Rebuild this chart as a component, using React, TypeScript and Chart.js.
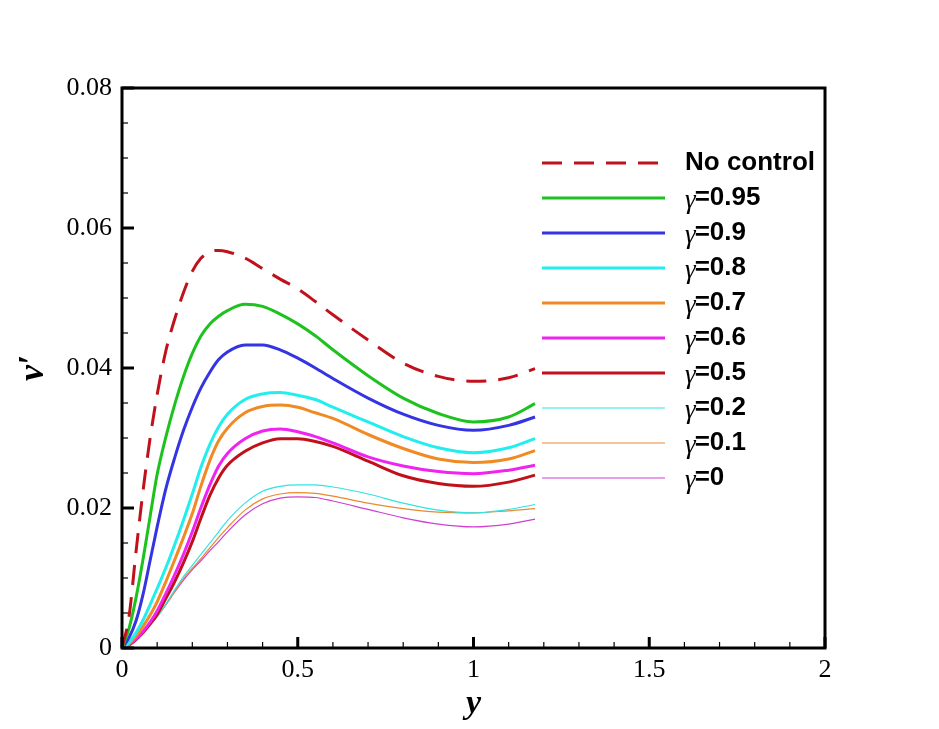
import React, { useEffect, useRef } from "react";
import { Chart, registerables } from "chart.js";

Chart.register(...registerables);

const xs = [0, 0.02, 0.04, 0.06, 0.08, 0.1, 0.125, 0.15, 0.175, 0.2, 0.225, 0.25, 0.275, 0.3, 0.35, 0.4, 0.45, 0.5, 0.55, 0.6, 0.7, 0.8, 0.9, 1.0, 1.1, 1.175];

const noControl = [0, 0.0045, 0.0138, 0.0225, 0.03, 0.0362, 0.0425, 0.047, 0.0508, 0.0538, 0.0557, 0.0566, 0.0568, 0.0566, 0.0557, 0.0542, 0.0527, 0.0513, 0.0495, 0.0476, 0.044, 0.0407, 0.0388, 0.0381, 0.0386, 0.0399];
const g095 = [0, 0.0028, 0.0072, 0.0127, 0.0188, 0.0248, 0.0302, 0.0348, 0.0388, 0.0421, 0.0446, 0.0463, 0.0474, 0.0482, 0.0491, 0.0488, 0.0477, 0.0463, 0.0446, 0.0426, 0.0389, 0.0357, 0.0335, 0.0323, 0.033, 0.0349];
const g09 = [0, 0.0015, 0.0039, 0.0077, 0.0125, 0.0173, 0.0228, 0.0272, 0.0311, 0.0344, 0.0372, 0.0394, 0.0412, 0.0423, 0.0433, 0.0433, 0.0426, 0.0414, 0.04, 0.0385, 0.0357, 0.0334, 0.0318, 0.0311, 0.0318, 0.033];
const g08 = [0, 0.0008, 0.0022, 0.004, 0.0062, 0.0085, 0.0115, 0.0148, 0.0183, 0.022, 0.0259, 0.0291, 0.0316, 0.0334, 0.0355, 0.0363, 0.0365, 0.0361, 0.0355, 0.0344, 0.0323, 0.0302, 0.0286, 0.0279, 0.0286, 0.0299];
const g07 = [0, 0.0006, 0.0017, 0.0031, 0.0047, 0.0066, 0.0095, 0.0126, 0.0158, 0.0192, 0.0232, 0.0268, 0.0296, 0.0314, 0.0336, 0.0345, 0.0347, 0.0344, 0.0336, 0.0328, 0.0305, 0.0285, 0.027, 0.0265, 0.027, 0.0282];
const g06 = [0, 0.0005, 0.0013, 0.0024, 0.0037, 0.0053, 0.0078, 0.0105, 0.0134, 0.0166, 0.0201, 0.0233, 0.026, 0.0278, 0.0299, 0.031, 0.0313, 0.0309, 0.0302, 0.0293, 0.0273, 0.026, 0.0252, 0.0249, 0.0254, 0.0261];
const g05 = [0, 0.0004, 0.0012, 0.0022, 0.0034, 0.0048, 0.0071, 0.0095, 0.0122, 0.0152, 0.0186, 0.0218, 0.0243, 0.0261, 0.0281, 0.0293, 0.0299, 0.0299, 0.0295, 0.0288, 0.0267, 0.0246, 0.0235, 0.0231, 0.0237, 0.0247];
const g02 = [0, 0.0005, 0.0013, 0.0023, 0.0034, 0.0045, 0.0063, 0.0083, 0.0102, 0.0118, 0.0134, 0.015, 0.0166, 0.0182, 0.0207, 0.0224, 0.0231, 0.0233, 0.0233, 0.023, 0.022, 0.0207, 0.0197, 0.0193, 0.0198, 0.0205];
const g01 = [0, 0.0005, 0.0013, 0.0023, 0.0034, 0.0045, 0.0062, 0.0081, 0.0099, 0.0114, 0.0128, 0.0143, 0.0158, 0.0172, 0.0197, 0.0213, 0.022, 0.0222, 0.0221, 0.0217, 0.0207, 0.0199, 0.0194, 0.0193, 0.0196, 0.0199];
const g00 = [0, 0.0005, 0.0013, 0.0023, 0.0034, 0.0045, 0.0062, 0.008, 0.0097, 0.0112, 0.0125, 0.0139, 0.0152, 0.0166, 0.019, 0.0206, 0.0214, 0.0216, 0.0215, 0.021, 0.0198, 0.0186, 0.0177, 0.0173, 0.0177, 0.0184];

const seriesLabels = ["No control", "γ=0.95", "γ=0.9", "γ=0.8", "γ=0.7", "γ=0.6", "γ=0.5", "γ=0.2", "γ=0.1", "γ=0"];
const seriesValues = [noControl, g095, g09, g08, g07, g06, g05, g02, g01, g00];
const seriesColors = ["#c0121c", "#1ec21e", "#3434e2", "#22eeee", "#f08a24", "#f024f0", "#c0101a", "#30e4e4", "#e88a30", "#d040d0"];
const seriesWidths = [3, 3, 3, 3, 3, 3, 3, 1.2, 1.2, 1.2];

const xTicks = [0, 0.5, 1, 1.5, 2];
const yTicks = [0, 0.02, 0.04, 0.06, 0.08];

const framePlugin = {
  id: "frameAndLegend",
  afterDatasetsDraw(chart: any) {
    const ctx = chart.ctx;
    const { left, right, top, bottom } = chart.chartArea;
    const xs_ = chart.scales.x;
    const ys_ = chart.scales.y;
    ctx.save();
    ctx.strokeStyle = "#000";
    for (let i = 0; i <= 20; i++) {
      const v = i * 0.1;
      const px = xs_.getPixelForValue(v);
      const major = i % 5 === 0;
      ctx.lineWidth = major ? 3 : 1.2;
      ctx.beginPath();
      ctx.moveTo(px, bottom);
      ctx.lineTo(px, bottom - (major ? 11 : 6));
      ctx.stroke();
    }
    for (let i = 0; i <= 16; i++) {
      const v = i * 0.005;
      const py = ys_.getPixelForValue(v);
      const major = i % 4 === 0;
      ctx.lineWidth = major ? 3 : 1.2;
      ctx.beginPath();
      ctx.moveTo(left, py);
      ctx.lineTo(left + (major ? 12 : 6), py);
      ctx.stroke();
    }
    ctx.lineWidth = 3;
    ctx.strokeRect(left, top, right - left, bottom - top);

    // legend
    const x0 = 542;
    const x1 = 665;
    const tx = 685;
    const y0 = 163;
    const dy = 35;
    chart.data.datasets.forEach((ds: any, i: number) => {
      const yy = y0 + i * dy;
      ctx.strokeStyle = ds.borderColor;
      ctx.lineWidth = ds.borderWidth;
      ctx.setLineDash(ds.borderDash || []);
      ctx.beginPath();
      ctx.moveTo(x0, yy);
      ctx.lineTo(x1, yy);
      ctx.stroke();
      ctx.setLineDash([]);
      ctx.fillStyle = "#000";
      ctx.textBaseline = "middle";
      ctx.textAlign = "left";
      const label: string = ds.label;
      if (label.startsWith("γ")) {
        ctx.font = "italic 27px 'Liberation Serif'";
        ctx.fillText("γ", tx, yy + 3);
        const w = ctx.measureText("γ").width;
        ctx.font = "bold 26px 'Liberation Sans'";
        ctx.fillText(label.slice(1), tx + w - 1, yy);
      } else {
        ctx.font = "bold 26px 'Liberation Sans'";
        ctx.fillText(label, tx, yy);
      }
    });
    ctx.restore();
  },
};

export default function App() {
  const ref = useRef<HTMLCanvasElement | null>(null);
  useEffect(() => {
    if (!ref.current) return;
    const datasets = seriesValues.map((vals, i) => ({
      label: seriesLabels[i],
      data: vals.map((v, k) => ({ x: xs[k], y: v })),
      borderColor: seriesColors[i],
      backgroundColor: seriesColors[i],
      borderWidth: seriesWidths[i],
      borderDash: i === 0 ? [20, 12] : [],
      pointRadius: 0,
      cubicInterpolationMode: "monotone" as const,
      fill: false,
    }));
    const chart = new Chart(ref.current, {
      type: "line",
      data: { datasets },
      options: {
        animation: false,
        responsive: false,
        devicePixelRatio: 1,
        layout: { padding: { top: 88, right: 114, left: 0, bottom: 0 } },
        plugins: { legend: { display: false }, tooltip: { enabled: false } },
        scales: {
          x: {
            type: "linear",
            min: 0,
            max: 2,
            afterFit: (s: any) => { s.height = 81; },
            afterBuildTicks: (s: any) => { s.ticks = xTicks.map((v) => ({ value: v })); },
            grid: { display: false, drawTicks: false },
            border: { display: false },
            ticks: {
              padding: 7,
              color: "#000",
              font: { family: "'Liberation Serif'", size: 26 },
              callback: (v: any) => String(v),
              maxRotation: 0,
            },
            title: {
              display: true,
              text: "y",
              color: "#000",
              font: { family: "'Liberation Serif'", size: 34, style: "italic", weight: "bold" },
              padding: { top: 0, bottom: 4 },
            },
          },
          y: {
            type: "linear",
            min: 0,
            max: 0.08,
            afterFit: (s: any) => { s.width = 122; },
            afterBuildTicks: (s: any) => { s.ticks = yTicks.map((v) => ({ value: v })); },
            grid: { display: false, drawTicks: false },
            border: { display: false },
            ticks: {
              padding: 10,
              color: "#000",
              font: { family: "'Liberation Serif'", size: 26 },
              callback: (v: any) => (v === 0 ? "0" : Number(v).toFixed(2)),
            },
            title: {
              display: true,
              text: "v′",
              color: "#000",
              font: { family: "'Liberation Serif'", size: 36, style: "italic", weight: "bold" },
              padding: { top: 12, bottom: 0 },
            },
          },
        },
      },
      plugins: [framePlugin],
    });
    return () => chart.destroy();
  }, []);
  return (
    <div style={{ position: "absolute", left: 0, top: 0, width: 939, height: 729, background: "#fff" }}>
      <canvas ref={ref} width={939} height={729} style={{ width: 939, height: 729, display: "block" }} />
    </div>
  );
}
